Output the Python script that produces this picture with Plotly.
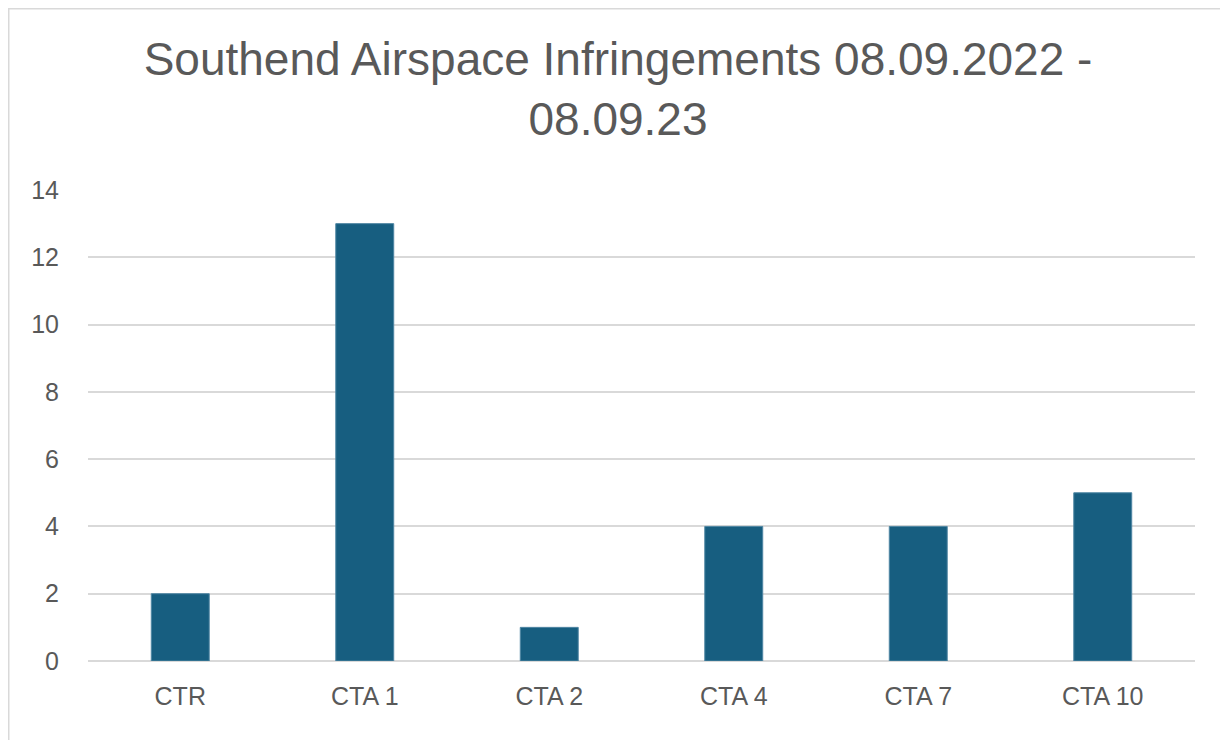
import plotly.graph_objects as go

categories = ["CTR", "CTA 1", "CTA 2", "CTA 4", "CTA 7", "CTA 10"]
values = [2, 13, 1, 4, 4, 5]
y_ticks = [0, 2, 4, 6, 8, 10, 12, 14]
title_text = "Southend Airspace Infringements 08.09.2022 -<br>08.09.23"

# page has an 8px body margin; figure drawn at (8, 8)
OFF = 8
W, H = 1228 - OFF, 740 - OFF
L, R, T, B = 88 - OFF, 1195 - OFF, 190 - OFF, 661 - OFF

fig = go.Figure(go.Bar(
    x=categories, y=values,
    marker=dict(color="#175E80", line=dict(color="#4F86A3", width=1)),
))

def px(x):
    return (x - L) / (R - L)

def py(y):
    return (B - y) / (B - T)

FONT = "Liberation Sans, Arial, sans-serif"

fig.update_layout(
    width=W, height=H,
    margin=dict(l=L, r=W - R, t=T, b=H - B, autoexpand=False),
    paper_bgcolor="white", plot_bgcolor="white",
    bargap=0.686,
    showlegend=False,
    title=dict(text=title_text, x=0.5, xref="container", xanchor="center",
               y=1 - 67 / H, yref="container", yanchor="top",
               font=dict(family=FONT, size=46, color="#595959")),
    font=dict(family=FONT, color="#595959"),
    xaxis=dict(showgrid=False, showline=False, ticks="", tickfont=dict(size=25, color="#595959"),
               ticklabelstandoff=18),
    yaxis=dict(range=[0, 14], tickvals=y_ticks, showgrid=True, gridcolor="#D9D9D9", gridwidth=1.5,
               zeroline=True, zerolinecolor="#D9D9D9", zerolinewidth=1.5,
               showline=False, ticks="", tickfont=dict(size=25, color="#595959"),
               ticklabelstandoff=28),
    shapes=[dict(type="rect", xref="paper", yref="paper",
                 x0=px(0), x1=px(W + 20), y0=py(H + 20), y1=py(0),
                 line=dict(color="#D9D9D9", width=3), fillcolor="rgba(0,0,0,0)", layer="below")],
)

fig.write_html("out.html")
